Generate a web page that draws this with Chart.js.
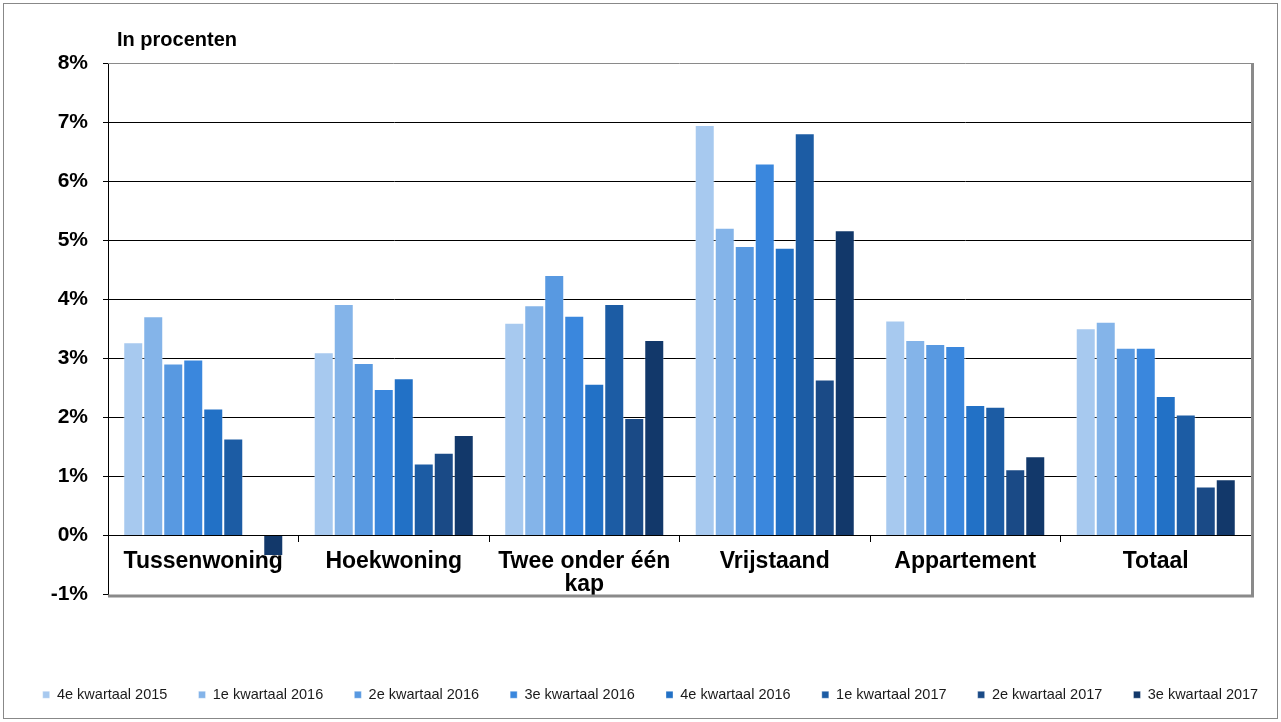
<!DOCTYPE html>
<html>
<head>
<meta charset="utf-8">
<script src="https://cdn.jsdelivr.net/npm/chart.js@4/dist/chart.umd.min.js"></script>
<style>
    html, body { margin: 0; padding: 0; background: #fff; }
    #wrap { position: absolute; left: 0; top: 0; width: 1281px; height: 722px; }
</style>
</head>
<body>
<div id="wrap"><canvas id="chart" width="1281" height="722"></canvas></div>
<script>
/* ========= DATA ========= */
var categories = ['Tussenwoning', 'Hoekwoning', ['Twee onder één', 'kap'], 'Vrijstaand', 'Appartement', 'Totaal'];
var seriesNames = ['4e kwartaal 2015', '1e kwartaal 2016', '2e kwartaal 2016', '3e kwartaal 2016',
                   '4e kwartaal 2016', '1e kwartaal 2017', '2e kwartaal 2017', '3e kwartaal 2017'];
var q4_2015 = [3.27, 3.10, 3.60, 6.95, 3.64, 3.51];
var q1_2016 = [3.71, 3.92, 3.90, 5.21, 3.31, 3.62];
var q2_2016 = [2.91, 2.92, 4.41, 4.90, 3.24, 3.18];
var q3_2016 = [2.98, 2.48, 3.72, 6.30, 3.21, 3.18];
var q4_2016 = [2.15, 2.66, 2.57, 4.87, 2.21, 2.36];
var q1_2017 = [1.64, 1.22, 3.92, 6.81, 2.18, 2.05];
var q2_2017 = [null, 1.40, 1.99, 2.64, 1.12, 0.83];
var q3_2017 = [-0.35, 1.70, 3.31, 5.17, 1.34, 0.95];
var yTicks = [-1, 0, 1, 2, 3, 4, 5, 6, 7, 8];

var seriesValues = [q4_2015, q1_2016, q2_2016, q3_2016, q4_2016, q1_2017, q2_2017, q3_2017];
var colors = ['#a7c9ef', '#84b4e9', '#5899e1', '#3a87dd', '#2271c6', '#1c5ca4', '#1a4a86', '#12386a'];

/* ========= PLUGINS ========= */
var frame = {
    id: 'frame',
    afterLayout: function (chart) {
        // nudge the legend row a bit to the right, like the original
        chart.legend.left += 20;
        chart.legend.right += 20;
    },
    beforeDatasetsDraw: function (chart) {
        var a = chart.chartArea, ctx = chart.ctx;
        ctx.save();
        ctx.strokeStyle = '#8a8a8a';
        ctx.lineWidth = 1;
        ctx.beginPath();
        ctx.moveTo(a.left, a.top + 0.5);
        ctx.lineTo(a.right, a.top + 0.5);
        ctx.stroke();
        ctx.lineWidth = 3;
        ctx.beginPath();
        ctx.moveTo(a.right + 1.5, a.top);
        ctx.lineTo(a.right + 1.5, a.bottom + 3);
        ctx.moveTo(a.left, a.bottom + 1.5);
        ctx.lineTo(a.right + 3, a.bottom + 1.5);
        ctx.stroke();
        ctx.restore();
    },
    afterDraw: function (chart) {
        var ctx = chart.ctx;
        ctx.save();
        ctx.strokeStyle = '#888';
        ctx.lineWidth = 1;
        ctx.strokeRect(3.5, 3.5, 1274, 715);
        ctx.fillStyle = '#000';
        ctx.font = 'bold 20px "Liberation Sans", Arial, sans-serif';
        ctx.textBaseline = 'middle';
        ctx.fillText('In procenten', 117, 40);
        ctx.restore();
    }
};

/* ========= CHART ========= */
new Chart(document.getElementById('chart'), {
    type: 'bar',
    data: {
        labels: categories,
        datasets: seriesValues.map(function (vals, i) {
            return {
                label: seriesNames[i],
                data: vals,
                backgroundColor: colors[i],
                borderColor: 'rgba(255,255,255,0.35)',
                borderWidth: 1,
                categoryPercentage: 0.84,
                barPercentage: 1
            };
        })
    },
    options: {
        responsive: false,
        animation: false,
        layout: { padding: { top: 63, right: 0, bottom: 10, left: 0 } },
        plugins: {
            tooltip: { enabled: false },
            legend: {
                position: 'bottom',
                title: { display: true, text: ' ', font: { size: 10 }, padding: { top: 70, bottom: 0 } },
                labels: {
                    boxWidth: 7,
                    boxHeight: 7,
                    padding: 11,
                    color: '#1a1a1a',
                    font: { family: '"Liberation Sans", Arial, sans-serif', size: 14.5 },
                    generateLabels: function (chart) {
                        var items = Chart.defaults.plugins.legend.labels.generateLabels(chart);
                        items.forEach(function (it) { it.text = it.text + '     '; });
                        return items;
                    }
                }
            }
        },
        scales: {
            x: {
                position: { y: 0 },
                grid: { offset: true, drawOnChartArea: false, drawTicks: true, tickLength: 6, color: '#000' },
                border: { display: true, color: '#000', width: 1 },
                ticks: {
                    color: '#000',
                    padding: 9,
                    maxRotation: 0,
                    autoSkip: false,
                    font: { family: '"Liberation Sans", Arial, sans-serif', size: 23, weight: 'bold', lineHeight: 1.0 }
                }
            },
            y: {
                min: -1,
                max: 8,
                afterFit: function (scale) { scale.width = 108; },
                afterBuildTicks: function (scale) {
                    scale.ticks = yTicks.map(function (v) { return { value: v }; });
                },
                grid: {
                    color: function (c) {
                        return (c.tick.value <= -1 || c.tick.value >= 8) ? 'rgba(0,0,0,0)' : '#000';
                    },
                    tickColor: '#000',
                    tickLength: 5,
                    lineWidth: 1
                },
                border: { display: true, color: '#000', width: 1 },
                ticks: {
                    color: '#000',
                    padding: 15,
                    font: { family: '"Liberation Sans", Arial, sans-serif', size: 21, weight: 'bold' },
                    callback: function (v) { return v + '%'; }
                }
            },
            // empty right axis, only keeps a margin on the right of the plot
            yr: {
                position: 'right',
                afterFit: function (scale) { scale.width = 30; },
                grid: { display: false },
                border: { display: false },
                ticks: { display: false }
            }
        }
    },
    plugins: [frame]
});
</script>
</body>
</html>
